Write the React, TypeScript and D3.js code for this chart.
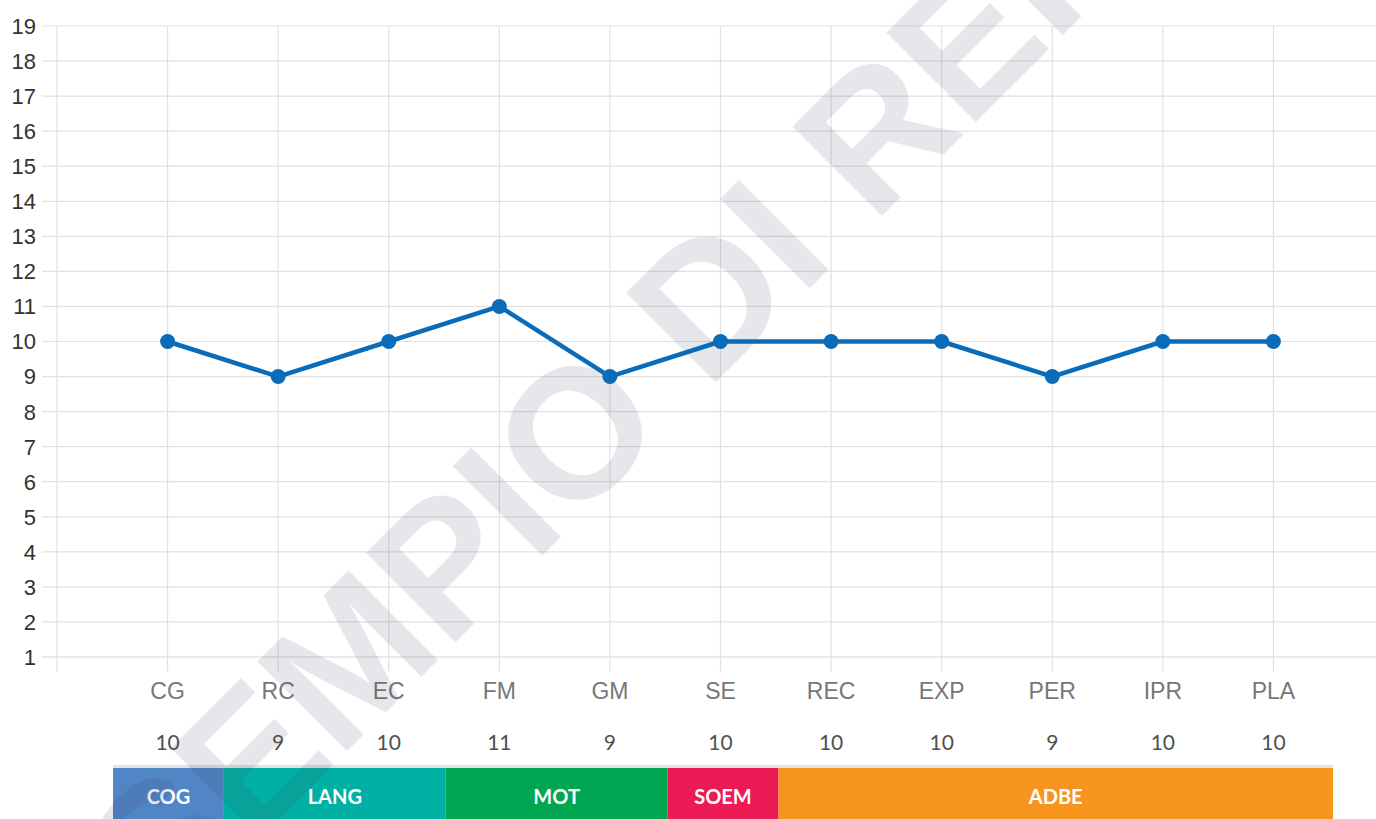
import React from 'react';
import * as d3 from 'd3';

const categories = ['CG', 'RC', 'EC', 'FM', 'GM', 'SE', 'REC', 'EXP', 'PER', 'IPR', 'PLA'];
const scores = [10, 9, 10, 11, 9, 10, 10, 10, 9, 10, 10];
const yTicks = [1, 2, 3, 4, 5, 6, 7, 8, 9, 10, 11, 12, 13, 14, 15, 16, 17, 18, 19];
const groups = ['COG', 'LANG', 'MOT', 'SOEM', 'ADBE'];
const groupSizes = [1, 2, 2, 1, 5];
const groupColors = ['#5085c6', '#00b0a5', '#00a651', '#ec1a55', '#f7941e'];
const watermark = 'ESEMPIO DI REFERTO';

export default function App() {
    const width = 1376;
    const height = 819;

    // category i sits at position i + 1, position 0 is the left axis
    const x = d3.scaleLinear().domain([0, 12]).range([57, 1384]);
    const y = d3.scaleLinear().domain([1, 19]).range([657, 26]);
    // the group band below is laid out a little wider than the plot
    const xBand = d3.scaleLinear().domain([0.5, categories.length + 0.5]).range([113, 1333]);

    const line = d3.line<number>()
        .x((d, i) => x(i + 1))
        .y(d => y(d));

    // band segments: each group covers its categories +- half a step
    let start = 0;
    const bands = groups.map((g, i) => {
        const from = start + 0.5;
        start += groupSizes[i];
        return { name: g, color: groupColors[i], x0: xBand(from), x1: xBand(start + 0.5) };
    });

    const gridColor = '#e1e1e1';

    return (
        <svg width={width} height={height} style={{ position: 'absolute', left: 0, top: 0 }}>
            <rect width={width} height={height} fill="#fff" />

            {/* horizontal grid */}
            {yTicks.map(t => (
                <line key={'h' + t} x1={42} x2={width} y1={y(t)} y2={y(t)}
                    stroke={t === 1 ? '#d6d6d6' : gridColor} strokeWidth={1.2} />
            ))}
            {/* vertical grid */}
            {d3.range(0, categories.length + 2).map(p => (
                <line key={'v' + p} x1={x(p)} x2={x(p)} y1={y(19)} y2={672}
                    stroke={gridColor} strokeWidth={1.2} />
            ))}

            {/* y tick labels */}
            {yTicks.map(t => (
                <text key={'yl' + t} x={36} y={y(t)} dy="0.36em" textAnchor="end"
                    fontFamily="Liberation Sans, Arial, sans-serif" fontSize={22} fill="#333">{t}</text>
            ))}

            {/* x labels */}
            {categories.map((c, i) => (
                <text key={'xl' + c} x={x(i + 1)} y={699} textAnchor="middle"
                    fontFamily="Liberation Sans, Arial, sans-serif" fontSize={23} fill="#777">{c}</text>
            ))}

            {/* score row */}
            {scores.map((s, i) => (
                <text key={'sv' + i} x={x(i + 1)} y={750} textAnchor="middle"
                    fontFamily="Lato, sans-serif" fontSize={21} fill="#505050">{s}</text>
            ))}

            {/* group band */}
            <rect x={bands[0].x0} y={765} width={bands[bands.length - 1].x1 - bands[0].x0} height={3} fill="#dfe4e8" />
            {bands.map(b => (
                <g key={b.name}>
                    <rect x={b.x0} y={768} width={b.x1 - b.x0} height={60} fill={b.color} />
                    <text x={(b.x0 + b.x1) / 2} y={804} textAnchor="middle"
                        fontFamily="Lato, sans-serif" fontWeight={700} fontSize={20} fill="#fff">{b.name}</text>
                </g>
            ))}

            {/* watermark */}
            <text transform="translate(78,1020) rotate(-45)"
                fontFamily="Liberation Sans, Arial, sans-serif" fontWeight={700} fontSize={184}
                fill="rgb(60,70,90)" fillOpacity={0.13}>{watermark}</text>

            {/* series */}
            <path d={line(scores) || ''} fill="none" stroke="#0a6cb8" strokeWidth={4.5} strokeLinejoin="round" />
            {scores.map((s, i) => (
                <circle key={'pt' + i} cx={x(i + 1)} cy={y(s)} r={7.5} fill="#0a6cb8" />
            ))}
        </svg>
    );
}
